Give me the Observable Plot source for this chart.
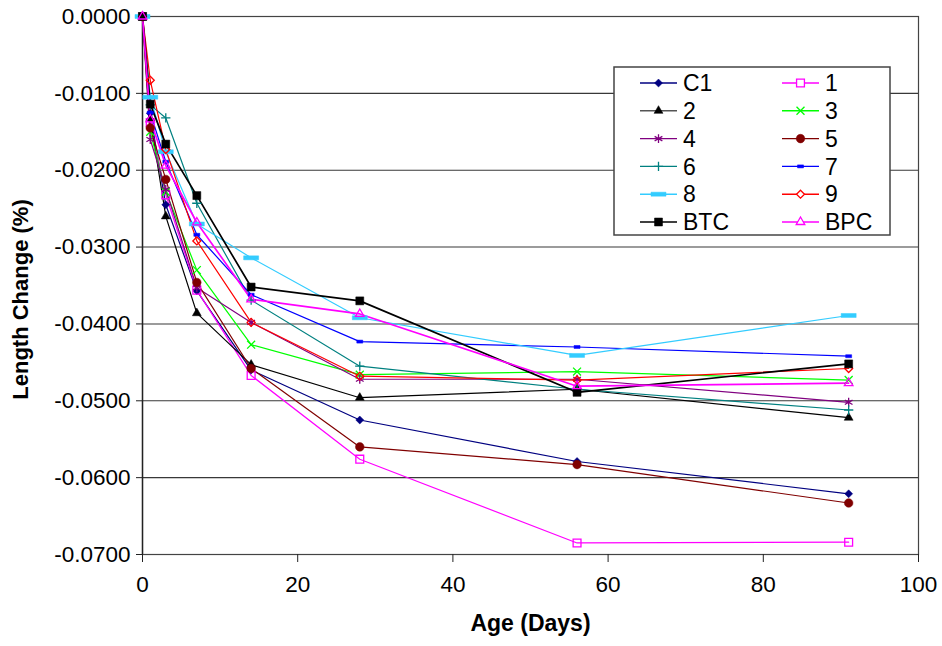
<!DOCTYPE html>
<html>
<head>
<meta charset="utf-8">
<script src="https://cdn.jsdelivr.net/npm/d3@7"></script>
<script src="https://cdn.jsdelivr.net/npm/@observablehq/plot@0.6"></script>
<style>
  html, body { margin: 0; padding: 0; background: #fff; }
  svg { display: block; }
</style>
</head>
<body>
<div id="chart"></div>
<script>
// ---- data ----
const ages = [0, 1, 3, 7, 14, 28, 56, 91];
const seriesNames = ["C1", "1", "2", "3", "4", "5", "6", "7", "8", "9", "BTC", "BPC"];
const C1  = [0, -0.0126, -0.0245, -0.0357, -0.0460, -0.0525, -0.0579, -0.0621];
const s1  = [0, -0.0138, -0.0232, -0.0356, -0.0467, -0.0576, -0.0685, -0.0684];
const s2  = [0, -0.0133, -0.0260, -0.0386, -0.0453, -0.0496, -0.0485, -0.0522];
const s3  = [0, -0.0150, -0.0228, -0.0330, -0.0427, -0.0466, -0.0462, -0.0473];
const s4  = [0, -0.0160, -0.0225, -0.0353, -0.0398, -0.0472, -0.0472, -0.0502];
const s5  = [0, -0.0145, -0.0212, -0.0346, -0.0458, -0.0560, -0.0583, -0.0633];
const s6  = [0, -0.0115, -0.0132, -0.0243, -0.0369, -0.0455, -0.0485, -0.0512];
const s7  = [0, -0.0125, -0.0189, -0.0284, -0.0362, -0.0423, -0.0430, -0.0442];
const s8  = [0, -0.0105, -0.0176, -0.0270, -0.0314, -0.0392, -0.0441, -0.0389];
const s9  = [0, -0.0083, -0.0173, -0.0292, -0.0398, -0.0468, -0.0473, -0.0458];
const BTC = [0, -0.0114, -0.0166, -0.0233, -0.0352, -0.0370, -0.0489, -0.0452];
const BPC = [0, -0.0134, -0.0194, -0.0268, -0.0368, -0.0387, -0.0481, -0.0477];
const seriesValues = [C1, s1, s2, s3, s4, s5, s6, s7, s8, s9, BTC, BPC];
const xTicks = [0, 20, 40, 60, 80, 100];
const yTicks = [0, -0.01, -0.02, -0.03, -0.04, -0.05, -0.06, -0.07];

// ---- styles ----
const dash8 = {draw(ctx) { ctx.moveTo(-7.5, -2); ctx.lineTo(7.5, -2); ctx.lineTo(7.5, 2); ctx.lineTo(-7.5, 2); ctx.closePath(); }};
const dash7 = {draw(ctx) { ctx.moveTo(-3, -1.5); ctx.lineTo(3, -1.5); ctx.lineTo(3, 1.5); ctx.lineTo(-3, 1.5); ctx.closePath(); }};
const styles = {
  "C1":  {color: "#000080", symbol: d3.symbolDiamond2, r: 3.6, fill: true,  w: 1.2, legendLine: "#000080"},
  "1":   {color: "#FF00FF", symbol: d3.symbolSquare2,  r: 5.0, fill: false, w: 1.2, legendLine: "#FF00FF"},
  "2":   {color: "#000000", symbol: d3.symbolTriangle, r: 3.3, fill: true,  w: 1.2, legendLine: "#555555"},
  "3":   {color: "#00FF00", symbol: d3.symbolTimes,    r: 3.7, fill: false, w: 1.2, legendLine: "#00FF00"},
  "4":   {color: "#800080", symbol: d3.symbolAsterisk, r: 4.2, fill: false, w: 1.2, legendLine: "#800080"},
  "5":   {color: "#800000", symbol: d3.symbolCircle,   r: 4.3, fill: true,  w: 1.2, legendLine: "#800000"},
  "6":   {color: "#008080", symbol: d3.symbolPlus,     r: 3.1, fill: false, w: 1.2, legendLine: "#008080"},
  "7":   {color: "#0000FF", symbol: dash7,             r: 3,   fill: true,  w: 1.2, legendLine: "#0000FF"},
  "8":   {color: "#33CCFF", symbol: dash8,             r: 3,   fill: true,  w: 1.2, legendLine: "#33CCFF"},
  "9":   {color: "#FF0000", symbol: d3.symbolDiamond2, r: 3.6, fill: false, w: 1.2, legendLine: "#FF0000"},
  "BTC": {color: "#000000", symbol: d3.symbolSquare,   r: 4.5, fill: true,  w: 1.7, legendLine: "#000000"},
  "BPC": {color: "#FF00FF", symbol: d3.symbolTriangle2,r: 4.1, fill: false, w: 1.7, legendLine: "#FF00FF"}
};

const rows = [];
seriesNames.forEach((name, i) => {
  seriesValues[i].forEach((v, j) => rows.push({series: name, age: ages[j], value: v}));
});

const seriesMarks = [];
seriesNames.forEach(name => {
  const st = styles[name];
  const data = rows.filter(d => d.series === name);
  seriesMarks.push(Plot.line(data, {x: "age", y: "value", stroke: st.color, strokeWidth: st.w}));
});
seriesNames.forEach(name => {
  const st = styles[name];
  const data = rows.filter(d => d.series === name);
  seriesMarks.push(Plot.dot(data, {
    x: "age", y: "value", symbol: st.symbol, r: st.r,
    fill: st.fill ? st.color : "none",
    stroke: st.color, strokeWidth: st.fill ? 0.5 : 1.3
  }));
});

const chart = Plot.plot({
  width: 942,
  height: 646,
  marginLeft: 142,
  marginRight: 24,
  marginTop: 16,
  marginBottom: 92,
  style: {fontFamily: "'Liberation Sans', Arial, sans-serif", fontSize: "22px", color: "black", background: "white", overflow: "visible"},
  x: {domain: [0, 100], label: null},
  y: {domain: [-0.07, 0], label: null},
  marks: [
    Plot.gridY(yTicks, {stroke: "#222", strokeOpacity: 0.9, strokeWidth: 1.1}),
    Plot.frame({stroke: "#444", strokeWidth: 1.2}),
    Plot.ruleX([0], {stroke: "#222", strokeWidth: 1.4}),
    Plot.axisY({ticks: yTicks, tickSize: 6, tickPadding: 6, tickFormat: d => d.toFixed(4), fontSize: 22.5, label: null, stroke: "#222"}),
    Plot.axisX({ticks: xTicks, tickSize: 8, tickPadding: 14, fontSize: 22.5, label: null, stroke: "#222"}),
    ...seriesMarks,
    Plot.text(["Age (Days)"], {frameAnchor: "bottom", dy: 76, textAnchor: "middle", fontWeight: "bold", fontSize: 23, fill: "black"}),
    Plot.text(["Length Change (%)"], {frameAnchor: "left", dx: -122, dy: 14, textAnchor: "middle", rotate: -90, fontWeight: "bold", fontSize: 22, fill: "black"})
  ]
});

// ---- legend ----
const svg = d3.select(chart);
const lg = svg.append("g").attr("font-family", "'Liberation Sans', Arial, sans-serif").attr("font-size", 23).attr("text-anchor", "start");
lg.append("rect").attr("x", 614).attr("y", 67).attr("width", 276).attr("height", 168)
  .attr("fill", "white").attr("stroke", "#444").attr("stroke-width", 1.5);
seriesNames.forEach((name, i) => {
  const st = styles[name];
  const col = i % 2, row = Math.floor(i / 2);
  const x0 = col === 0 ? 640 : 782;
  const y = 83 + row * 27.8;
  lg.append("line").attr("x1", x0).attr("x2", x0 + 37).attr("y1", y).attr("y2", y)
    .attr("stroke", st.legendLine).attr("stroke-width", 1.4);
  lg.append("path").attr("transform", `translate(${x0 + 18.5},${y})`)
    .attr("d", d3.symbol(st.symbol, Math.PI * st.r * st.r)())
    .attr("fill", st.fill ? st.color : "white")
    .attr("stroke", st.color).attr("stroke-width", st.fill ? 0.5 : 1.3);
  lg.append("text").attr("x", x0 + 43).attr("y", y).attr("dy", "0.36em").attr("fill", "black").text(name);
});

document.getElementById("chart").appendChild(chart);
</script>
</body>
</html>
